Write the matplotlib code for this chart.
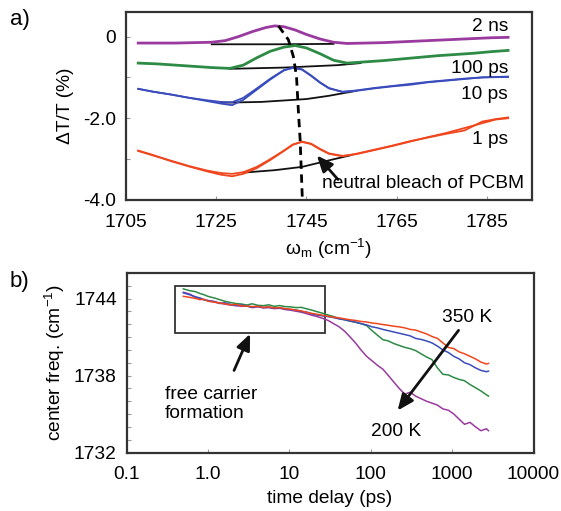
import matplotlib
matplotlib.use('Agg')
from matplotlib import pyplot as plt
from matplotlib.patches import Rectangle
from matplotlib.ticker import FixedLocator, FixedFormatter, MultipleLocator, NullLocator

plt.rcParams['font.family'] = ['Liberation Sans', 'DejaVu Sans']
plt.rcParams['font.size'] = 13.8
plt.rcParams['mathtext.fontset'] = 'custom'
plt.rcParams['mathtext.rm'] = 'Liberation Sans'
plt.rcParams['mathtext.it'] = 'Liberation Sans:italic'
plt.rcParams['axes.linewidth'] = 1.6
plt.rcParams['axes.edgecolor'] = '#333333'

PURPLE = '#9a3a9e'
GREEN = '#2e8b45'
BLUE = '#3a4cbc'
RED = '#f0461e'

# ---- panel a: spectra (omega in cm-1, dT/T in %)
w_2ns = [1707.7, 1712, 1716, 1720, 1724, 1727, 1730, 1733, 1736, 1738, 1740, 1742.5, 1745,
         1748, 1751, 1754, 1758, 1762, 1766, 1770, 1774, 1778, 1782, 1786, 1789.7]
s_2ns = [-0.16, -0.16, -0.16, -0.15, -0.14, -0.10, 0.00, 0.12, 0.22, 0.26, 0.24, 0.16, 0.05,
         -0.06, -0.14, -0.17, -0.16, -0.15, -0.13, -0.11, -0.09, -0.07, -0.05, -0.03, -0.02]
w_100ps = [1707.7, 1712, 1716, 1720, 1724, 1728, 1731, 1734, 1737, 1740, 1742.5, 1745, 1748,
           1751, 1754, 1758, 1762, 1766, 1770, 1774, 1778, 1782, 1786, 1789.7]
s_100ps = [-0.65, -0.67, -0.70, -0.73, -0.76, -0.78, -0.70, -0.52, -0.36, -0.26, -0.22, -0.28,
           -0.42, -0.58, -0.65, -0.62, -0.59, -0.55, -0.51, -0.47, -0.44, -0.41, -0.37, -0.34]
w_10ps = [1707.7, 1711, 1715, 1719, 1723, 1726, 1728.5, 1731, 1734, 1737, 1740, 1742, 1744,
          1746, 1748, 1750, 1753, 1756, 1760, 1764, 1768, 1772, 1776, 1780, 1784, 1789.7]
s_10ps = [-1.28, -1.35, -1.42, -1.50, -1.58, -1.64, -1.68, -1.55, -1.30, -1.05, -0.83, -0.76,
          -0.80, -0.95, -1.12, -1.26, -1.36, -1.33, -1.27, -1.22, -1.18, -1.12, -1.08, -1.04,
          -1.00, -0.98]
s_10ps_b = [-1.28, -1.35, -1.42, -1.50, -1.56, -1.60, -1.61, -1.50, -1.27, -1.03, -0.82, -0.77,
            -0.81, -0.96, -1.13, -1.27, -1.35, -1.32, -1.26, -1.21, -1.16, -1.11, -1.07, -1.03,
            -1.00, -0.99]
w_1ps = [1707.7, 1711, 1715, 1719, 1723, 1726, 1728.5, 1731, 1734, 1737, 1740, 1742, 1744,
         1746, 1748, 1750, 1753, 1756, 1760, 1764, 1768, 1772, 1776, 1780, 1784, 1787, 1789.7]
s_1ps = [-2.79, -2.90, -3.05, -3.18, -3.30, -3.38, -3.42, -3.36, -3.22, -3.02, -2.80, -2.65,
         -2.57, -2.62, -2.75, -2.86, -2.92, -2.88, -2.78, -2.68, -2.57, -2.46, -2.36, -2.24,
         -2.12, -2.03, -2.00]
s_1ps_b = [-2.80, -2.91, -3.04, -3.17, -3.28, -3.34, -3.36, -3.32, -3.19, -3.00, -2.79, -2.64,
           -2.58, -2.63, -2.76, -2.87, -2.93, -2.87, -2.77, -2.67, -2.56, -2.47, -2.38, -2.30,
           -2.08, -2.02, -1.98]

# baselines under each peak
bw_2ns = [1724, 1738, 1751]
bs_2ns = [-0.19, -0.19, -0.18]
bw_100ps = [1728, 1740, 1752, 1757]
bs_100ps = [-0.79, -0.76, -0.70, -0.65]
bw_10ps = [1726, 1735, 1745, 1750, 1756]
bs_10ps = [-1.62, -1.60, -1.53, -1.45, -1.33]
bw_1ps = [1731, 1738, 1744, 1750, 1755]
bs_1ps = [-3.33, -3.27, -3.19, -3.03, -2.90]

# peak positions (dashed guide)
peak_w = [1738.8, 1741.0, 1742.1, 1742.8, 1743.2, 1743.6, 1744.1]
peak_s = [0.26, -0.08, -0.49, -0.98, -1.80, -2.53, -4.00]

# ---- panel b: center frequency vs time delay
t_ps = [0.5, 0.6, 0.7, 0.8, 0.9, 1.0, 1.2, 1.4, 1.6, 1.9, 2.2, 2.6, 3.0, 3.5, 4.1, 4.8, 5.6,
        6.5, 7.6, 8.9, 10.4, 12, 14, 16.5, 19, 22, 26, 30, 35, 41, 48, 56, 65, 76, 89, 104,
        121, 141, 165, 192, 224, 262, 305, 356, 415, 485, 565, 660, 770, 900, 1050, 1220,
        1420, 1660, 1940, 2260, 2640, 2800]
f_350K = [1744.18, 1744.10, 1744.02, 1743.92, 1743.95, 1743.80, 1743.72, 1743.66, 1743.60,
          1743.52, 1743.55, 1743.44, 1743.42, 1743.38, 1743.40, 1743.32, 1743.36, 1743.28,
          1743.30, 1743.22, 1743.18, 1743.10, 1743.05, 1742.92, 1742.85, 1742.78, 1742.70,
          1742.62, 1742.55, 1742.50, 1742.42, 1742.35, 1742.30, 1742.22, 1742.18, 1742.10,
          1742.05, 1741.98, 1741.92, 1741.85, 1741.80, 1741.72, 1741.60, 1741.55, 1741.40,
          1741.25, 1741.05, 1740.90, 1740.55, 1740.20, 1740.10, 1739.85, 1739.70, 1739.50,
          1739.30, 1739.05, 1738.90, 1738.95]
f_300K = [1744.45, 1744.30, 1744.15, 1744.05, 1743.90, 1743.85, 1743.75, 1743.62, 1743.68,
          1743.55, 1743.48, 1743.50, 1743.42, 1743.35, 1743.40, 1743.30, 1743.34, 1743.26,
          1743.28, 1743.20, 1743.15, 1743.12, 1743.00, 1742.95, 1742.80, 1742.72, 1742.65,
          1742.60, 1742.52, 1742.42, 1742.35, 1742.25, 1742.18, 1742.05, 1741.95, 1741.80,
          1741.72, 1741.60, 1741.50, 1741.40, 1741.30, 1741.20, 1741.10, 1740.90, 1740.82,
          1740.70, 1740.55, 1740.30, 1740.00, 1739.80, 1739.50, 1739.30, 1739.00, 1738.85,
          1738.60, 1738.40, 1738.30, 1738.35]
f_250K = [1744.76, 1744.62, 1744.55, 1744.40, 1744.30, 1744.18, 1744.05, 1743.92, 1743.80,
          1743.70, 1743.62, 1743.58, 1743.50, 1743.60, 1743.48, 1743.45, 1743.52, 1743.40,
          1743.46, 1743.38, 1743.36, 1743.30, 1743.32, 1743.20, 1743.10, 1742.98, 1742.85,
          1742.72, 1742.60, 1742.45, 1742.35, 1742.25, 1742.15, 1742.05, 1741.90, 1741.50,
          1741.15, 1740.80, 1740.70, 1740.50, 1740.35, 1740.20, 1740.10, 1739.95, 1739.70,
          1739.45, 1739.25, 1738.60, 1738.10, 1738.05, 1737.85, 1737.70, 1737.60, 1737.30,
          1737.05, 1736.80, 1736.50, 1736.40]
f_200K = [1744.50, 1744.35, 1744.10, 1744.02, 1743.92, 1743.85, 1743.78, 1743.65, 1743.58,
          1743.50, 1743.45, 1743.40, 1743.42, 1743.30, 1743.36, 1743.28, 1743.30, 1743.22,
          1743.25, 1743.15, 1743.10, 1743.02, 1742.95, 1742.82, 1742.70, 1742.60, 1742.45,
          1742.30, 1742.05, 1741.80, 1741.45, 1741.00, 1740.55, 1740.00, 1739.50, 1739.15,
          1738.80, 1738.50, 1738.00, 1737.50, 1737.00, 1736.55, 1736.70, 1736.40, 1736.20,
          1736.00, 1735.85, 1735.70, 1735.40, 1735.30, 1735.00, 1734.60, 1734.20, 1734.35,
          1734.00, 1733.70, 1733.85, 1733.70]

W, H = 561, 511
fig = plt.figure(figsize=(W / 100, H / 100), dpi=100)

# panel a
ax1 = fig.add_axes([126 / W, 1 - 200 / H, (532 - 126) / W, (200 - 12) / H])
for bw, bs in [(bw_2ns, bs_2ns), (bw_100ps, bs_100ps), (bw_10ps, bs_10ps), (bw_1ps, bs_1ps)]:
    ax1.plot(bw, bs, color='#111111', lw=1.3)
ax1.plot(w_2ns, s_2ns, color=PURPLE, lw=2.0)
ax1.plot(w_100ps, s_100ps, color=GREEN, lw=2.0)
ax1.plot(w_10ps, s_10ps, color=BLUE, lw=1.3)
ax1.plot(w_10ps, s_10ps_b, color=BLUE, lw=1.3)
ax1.plot(w_1ps, s_1ps, color=RED, lw=1.3)
ax1.plot(w_1ps, s_1ps_b, color=RED, lw=1.3)
ax1.plot(peak_w, peak_s, color='black', lw=2.0, ls=(0, (3, 2)))

ax1.set_xlim(1705, 1795)
ax1.set_ylim(-4, 0.6)
ax1.xaxis.set_major_locator(FixedLocator([1705, 1725, 1745, 1765, 1785]))
ax1.yaxis.set_major_locator(FixedLocator([-4, -3, -2, -1, 0]))
ax1.yaxis.set_major_formatter(FixedFormatter(['-4.0', '', '-2.0', '', '0']))
ax1.tick_params(direction='in', length=3, width=0.8, color='#999999', pad=7)
ax1.tick_params(axis='x', pad=10)
ax1.set_xlabel(r'$\mathregular{\omega_m}$ (cm$^{\mathregular{-1}}$)', labelpad=4)
ax1.set_ylabel('ΔT/T (%)')
ax1.yaxis.set_label_coords(-0.128, 0.5)

for lab, y in [('2 ns', 0.245), ('100 ps', -0.78), ('10 ps', -1.43), ('1 ps', -2.53)]:
    ax1.text(1789.7, y, lab, ha='right', va='center')
ax1.annotate('', xy=(1746.9, -2.86), xytext=(1752.4, -3.55),
             arrowprops=dict(arrowstyle='-|>,head_length=0.7,head_width=0.3', lw=2, color='#111111'))
ax1.text(1748.5, -3.59, 'neutral bleach of PCBM', ha='left', va='center')

# panel b
ax2 = fig.add_axes([126.5 / W, 1 - 452.5 / H, (533.5 - 126.5) / W, (452.5 - 273) / H])
ax2.plot(t_ps, f_200K, color=PURPLE, lw=1.1)
ax2.plot(t_ps, f_250K, color=GREEN, lw=1.1)
ax2.plot(t_ps, f_300K, color=BLUE, lw=1.1)
ax2.plot(t_ps, f_350K, color=RED, lw=1.1)
ax2.set_xscale('log')
ax2.set_xlim(0.1, 10000)
ax2.set_ylim(1732, 1746)
ax2.xaxis.set_major_locator(FixedLocator([0.1, 1, 10, 100, 1000, 10000]))
ax2.xaxis.set_major_formatter(FixedFormatter(['0.1', '1.0', '10', '100', '1000', '10000']))
ax2.xaxis.set_minor_locator(NullLocator())
ax2.yaxis.set_major_locator(FixedLocator([1732, 1738, 1744]))
ax2.yaxis.set_minor_locator(MultipleLocator(1))
ax2.tick_params(which='both', direction='in', length=3, width=0.8, color='#999999', pad=7)
ax2.tick_params(axis='x', pad=10)
ax2.set_xlabel('time delay (ps)', labelpad=5)
ax2.set_ylabel(r'center freq. (cm$^{\mathregular{-1}}$)')
ax2.yaxis.set_label_coords(-0.146, 0.5)

ax2.add_patch(Rectangle((0.39, 1741.33), 27.7 - 0.39, 1744.96 - 1741.33,
                        fill=False, ec='#333333', lw=1.3))
ax2.annotate('', xy=(3.4, 1741.45), xytext=(2.03, 1738.2),
             arrowprops=dict(arrowstyle='-|>,head_length=0.7,head_width=0.3', lw=2, color='#111111'))
ax2.text(0.296, 1735.8, 'free carrier\nformation', ha='left', va='center', linespacing=1.15)
ax2.annotate('', xy=(204, 1735.1), xytext=(1260, 1741.7),
             arrowprops=dict(arrowstyle='-|>,head_length=0.7,head_width=0.3', lw=2, color='#111111'))
ax2.text(1520, 1742.5, '350 K', ha='center', va='center')
ax2.text(204, 1733.6, '200 K', ha='center', va='center')

fig.text(10 / W, 1 - 20 / H, 'a)', ha='left', va='center', fontsize=16)
fig.text(10 / W, 1 - 281 / H, 'b)', ha='left', va='center', fontsize=16)

fig.savefig('out.png', dpi=100)
